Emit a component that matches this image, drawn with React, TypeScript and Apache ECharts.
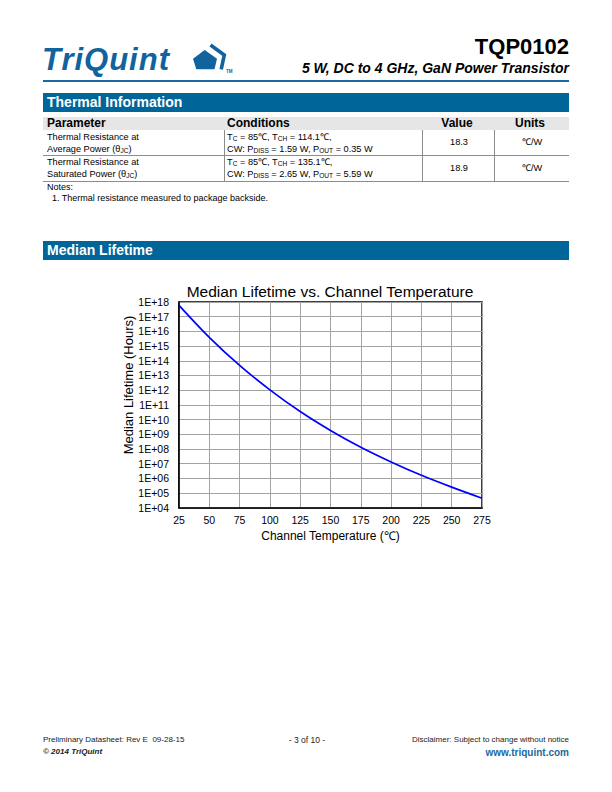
import React, { useEffect, useRef } from "react";
import * as echarts from "echarts";

const FF = "'Liberation Sans', Arial, Helvetica, sans-serif";

// ---- chart data ----
const channelTempC = [25, 50, 75, 100, 125, 150, 175, 200, 225, 250, 275];
const medianLifetimeHours = [5.9e17, 3.9e15, 4.8e13, 1.05e12, 3.5e10, 1.8e9, 1.3e8, 1.3e7, 1.6e6, 2.5e5, 4.4e4];
const yTickLabels = [
  "1E+04", "1E+05", "1E+06", "1E+07", "1E+08", "1E+09", "1E+10", "1E+11",
  "1E+12", "1E+13", "1E+14", "1E+15", "1E+16", "1E+17", "1E+18",
];
const xTickLabels = ["25", "50", "75", "100", "125", "150", "175", "200", "225", "250", "275"];

const chartTitle = "Median Lifetime vs. Channel Temperature";
const xAxisTitle = "Channel Temperature (℃)";
const yAxisTitle = "Median Lifetime (Hours)";

// ---- table data ----
const tableHeaders = ["Parameter", "Conditions", "Value", "Units"];
const thermalValues = ["18.3", "18.9"];
const thermalUnits = ["℃/W", "℃/W"];

type TxtProps = {
  x: number;
  y: number;
  size: number;
  weight?: string;
  italic?: boolean;
  color?: string;
  align?: "left" | "right" | "center";
  ls?: number;
  children: React.ReactNode;
};

function Txt({ x, y, size, weight, italic, color, align = "left", ls, children }: TxtProps) {
  const style: React.CSSProperties = {
    position: "absolute",
    top: y - size * 0.6,
    lineHeight: `${size * 1.2}px`,
    fontSize: size,
    fontWeight: (weight as any) || "normal",
    fontStyle: italic ? "italic" : "normal",
    color: color || "#000",
    whiteSpace: "nowrap",
    letterSpacing: ls ? `${ls}px` : undefined,
  };
  if (align === "left") style.left = x;
  else if (align === "right") style.right = 612 - x;
  else {
    style.left = x;
    style.transform = "translateX(-50%)";
  }
  return <div style={style}>{children}</div>;
}

const Sub = ({ children }: { children: React.ReactNode }) => (
  <span style={{ fontSize: "0.72em", verticalAlign: "-0.08em" }}>{children}</span>
);

function Box({ l, t, w, h, bg }: { l: number; t: number; w: number; h: number; bg: string }) {
  return <div style={{ position: "absolute", left: l, top: t, width: w, height: h, background: bg }} />;
}

const BLUE = "#006699";
const LINE = "#8c8c8c";

function Chart() {
  const ref = useRef<HTMLDivElement>(null);
  useEffect(() => {
    if (!ref.current) return;
    const chart = echarts.init(ref.current, undefined, { renderer: "svg" });
    const plotLeft = 179;
    const plotRight = 482;
    const plotTop = 302;
    const plotBottom = 507.7;
    chart.setOption({
      animation: false,
      backgroundColor: "transparent",
      title: {
        text: chartTitle,
        left: 325,
        top: 278,
        textAlign: "center",
        textStyle: { fontFamily: FF, fontSize: 15.5, fontWeight: "normal", color: "#000" },
      },
      grid: {
        left: plotLeft,
        right: 612 - plotRight,
        top: plotTop,
        bottom: 792 - plotBottom,
        show: true,
        borderColor: "#000",
        borderWidth: 1.5,
        containLabel: false,
      },
      xAxis: {
        type: "value",
        min: 25,
        max: 275,
        interval: 25,
        name: xAxisTitle,
        nameLocation: "middle",
        nameGap: 22,
        nameTextStyle: { fontFamily: FF, fontSize: 12, color: "#000" },
        axisLine: { show: true, lineStyle: { color: "#000", width: 1.5 } },
        axisTick: { show: false },
        axisLabel: {
          fontFamily: FF,
          fontSize: 10.5,
          color: "#000",
          margin: 7,
          formatter: (v: number) => {
            const i = xTickLabels.indexOf(String(v));
            return i >= 0 ? xTickLabels[i] : String(v);
          },
        },
        splitLine: { show: true, lineStyle: { color: "#a3a3a3", width: 1 } },
      },
      yAxis: {
        type: "value",
        min: 4,
        max: 18,
        interval: 1,
        axisLine: { show: true, lineStyle: { color: "#000", width: 1.5 } },
        axisTick: { show: false },
        axisLabel: {
          fontFamily: FF,
          fontSize: 10.5,
          color: "#000",
          margin: 10,
          formatter: (v: number) => yTickLabels[Math.round(v) - 4] ?? "",
        },
        splitLine: { show: true, lineStyle: { color: "#a3a3a3", width: 1 } },
      },
      graphic: [
        {
          type: "text",
          x: 128,
          y: 385,
          rotation: Math.PI / 2,
          style: {
            text: yAxisTitle,
            font: `13px ${FF}`,
            fill: "#000",
            textAlign: "center",
            textVerticalAlign: "middle",
          },
        },
      ],
      series: [
        {
          type: "line",
          data: channelTempC.map((t, i) => [t, Math.log10(medianLifetimeHours[i])]),
          showSymbol: false,
          smooth: 0.3,
          lineStyle: { color: "#0000ff", width: 1.7 },
          itemStyle: { color: "#0000ff" },
        },
      ],
    });
    return () => chart.dispose();
  }, []);
  return <div ref={ref} style={{ position: "absolute", left: 0, top: 0, width: 612, height: 792 }} />;
}

export default function App() {
  return (
    <div
      style={{
        position: "absolute",
        left: 0,
        top: 0,
        width: 612,
        height: 792,
        background: "#fff",
        fontFamily: FF,
        color: "#000",
        overflow: "hidden",
      }}
    >
      {/* Header */}
      <Txt x={42} y={59.5} size={31} weight="bold" italic color="#10639e" ls={1}>
        TriQuint
      </Txt>
      <svg
        width={612}
        height={100}
        style={{ position: "absolute", left: 0, top: 0, pointerEvents: "none" }}
      >
        <polygon points="204.7,50 217,58.7 214.5,69.3 196.3,69.3 193,58.7" fill="#10639e" />
        <polyline
          points="210.5,45 224.3,55 221.2,69.3"
          fill="none"
          stroke="#10639e"
          strokeWidth={3.6}
          strokeLinejoin="miter"
        />
      </svg>
      <Txt x={226} y={71.5} size={4.5} weight="bold" color="#10639e">
        TM
      </Txt>
      <Txt x={569} y={47.5} size={22} weight="bold" align="right">
        TQP0102
      </Txt>
      <Txt x={569} y={68.5} size={14} weight="bold" italic align="right">
        5 W, DC to 4 GHz, GaN Power Transistor
      </Txt>
      <Box l={43} t={79.5} w={526} h={2} bg="#1a6aa0" />

      {/* Thermal Information */}
      <Box l={43} t={93} w={526} h={19} bg={BLUE} />
      <Txt x={47} y={102.5} size={14} weight="bold" color="#fff">
        Thermal Information
      </Txt>
      <Box l={43} t={116.5} w={526} h={13.5} bg="#e6e6e6" />
      <Txt x={47} y={123.3} size={12} weight="bold">
        {tableHeaders[0]}
      </Txt>
      <Txt x={227} y={123.3} size={12} weight="bold">
        {tableHeaders[1]}
      </Txt>
      <Txt x={457} y={123.3} size={12} weight="bold" align="center">
        {tableHeaders[2]}
      </Txt>
      <Txt x={530} y={123.3} size={12} weight="bold" align="center">
        {tableHeaders[3]}
      </Txt>
      <Box l={43} t={154.5} w={526} h={1.5} bg={LINE} />
      <Box l={43} t={180.5} w={526} h={1.5} bg={LINE} />
      <Box l={223.5} t={130} w={1.5} h={51} bg={LINE} />
      <Box l={421.5} t={130} w={1.5} h={51} bg={LINE} />
      <Box l={493.5} t={130} w={1.5} h={51} bg={LINE} />

      <Txt x={47} y={137.3} size={9.2}>Thermal Resistance at</Txt>
      <Txt x={47} y={149.3} size={9.2}>
        Average Power (θ<Sub>JC</Sub>)
      </Txt>
      <Txt x={227} y={137.3} size={9.2}>
        T<Sub>C</Sub> = 85℃, T<Sub>CH</Sub> = 114.1℃,
      </Txt>
      <Txt x={227} y={149.3} size={9.2}>
        CW: P<Sub>DISS</Sub> = 1.59 W, P<Sub>OUT</Sub> = 0.35 W
      </Txt>
      <Txt x={459} y={143} size={9.2} align="center">
        {thermalValues[0]}
      </Txt>
      <Txt x={532} y={143} size={9.2} align="center">
        {thermalUnits[0]}
      </Txt>

      <Txt x={47} y={162.7} size={9.2}>Thermal Resistance at</Txt>
      <Txt x={47} y={174.5} size={9.2}>
        Saturated Power (θ<Sub>JC</Sub>)
      </Txt>
      <Txt x={227} y={162.7} size={9.2}>
        T<Sub>C</Sub> = 85℃, T<Sub>CH</Sub> = 135.1℃,
      </Txt>
      <Txt x={227} y={174.5} size={9.2}>
        CW: P<Sub>DISS</Sub> = 2.65 W, P<Sub>OUT</Sub> = 5.59 W
      </Txt>
      <Txt x={459} y={168.5} size={9.2} align="center">
        {thermalValues[1]}
      </Txt>
      <Txt x={532} y={168.5} size={9.2} align="center">
        {thermalUnits[1]}
      </Txt>

      <Txt x={47} y={187.3} size={9}>Notes:</Txt>
      <Txt x={52} y={198.3} size={9}>1. Thermal resistance measured to package backside.</Txt>

      {/* Median Lifetime */}
      <Box l={43} t={241} w={526} h={18.5} bg={BLUE} />
      <Txt x={47} y={250.2} size={14} weight="bold" color="#fff">
        Median Lifetime
      </Txt>

      <Chart />

      {/* Footer */}
      <Txt x={43} y={740} size={8} color="#222">
        Preliminary Datasheet: Rev E&nbsp; 09-28-15
      </Txt>
      <Txt x={43} y={752} size={8} weight="bold" italic color="#222">
        © 2014 TriQuint
      </Txt>
      <Txt x={307} y={740} size={8.5} align="center" color="#222">
        - 3 of 10 -
      </Txt>
      <Txt x={569} y={740} size={8} align="right" color="#222">
        Disclaimer: Subject to change without notice
      </Txt>
      <Txt x={569} y={752.5} size={10} weight="bold" align="right" color="#1a6aa0">
        www.triquint.com
      </Txt>
    </div>
  );
}
